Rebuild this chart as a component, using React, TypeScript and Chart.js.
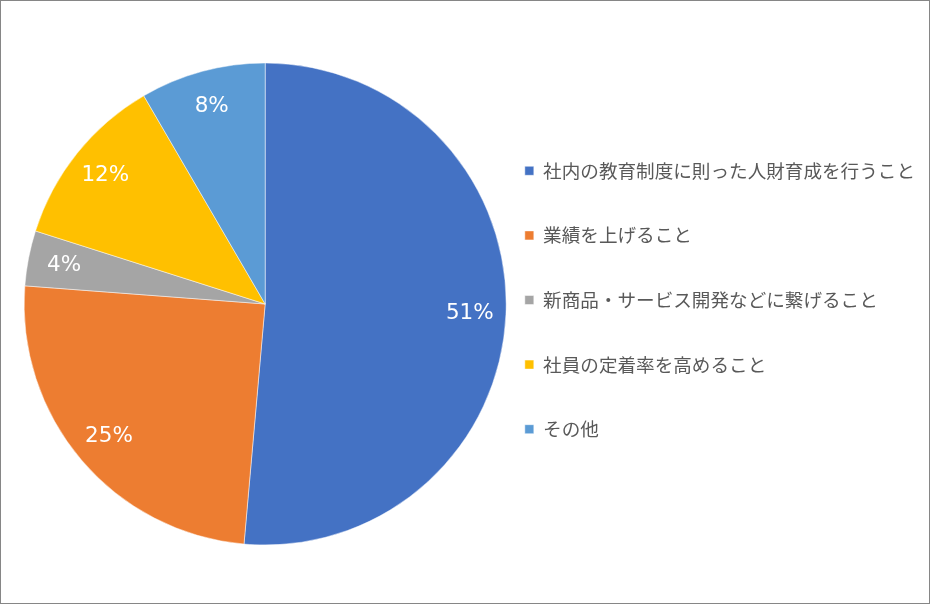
import { useEffect, useRef } from "react";
import { Chart, registerables } from "chart.js";
import type { ChartConfiguration, Plugin } from "chart.js";

Chart.register(...registerables);

// ====== data (percent) ======
const LABELS = [
  "社内の教育制度に則った人財育成を行うこと",
  "業績を上げること",
  "新商品・サービス開発などに繋げること",
  "社員の定着率を高めること",
  "その他",
];
const VALUES = [51.4, 24.8, 3.7, 11.7, 8.4];
const COLORS = ["#4472C4", "#ED7D31", "#A5A5A5", "#FFC000", "#5B9BD5"];

// percent labels inside slices (near outer edge)
const pctLabels: Plugin<"pie"> = {
  id: "pctLabels",
  afterDatasetsDraw(chart) {
    const { ctx } = chart;
    const meta = chart.getDatasetMeta(0);
    const total = VALUES.reduce((a, b) => a + b, 0);
    ctx.save();
    ctx.fillStyle = "#ffffff";
    ctx.font = "21.5px 'DejaVu Sans', Verdana, sans-serif";
    ctx.textAlign = "center";
    ctx.textBaseline = "middle";
    meta.data.forEach((arc: any, i) => {
      const { x, y, startAngle, endAngle, outerRadius } = arc.getProps(
        ["x", "y", "startAngle", "endAngle", "outerRadius"],
        true
      );
      const mid = (startAngle + endAngle) / 2;
      const r = outerRadius * 0.85;
      const pct = Math.round((VALUES[i] / total) * 100);
      ctx.fillText(`${pct}%`, x + Math.cos(mid) * r, y + Math.sin(mid) * r);
    });
    ctx.restore();
  },
};

// nudge the legend a bit higher than the pie centre
const legendNudge: Plugin<"pie"> = {
  id: "legendNudge",
  afterLayout(chart) {
    const lg: any = chart.legend;
    if (!lg) return;
    lg.top -= 4;
    lg.bottom -= 4;
  },
};

export default function App() {
  const canvasRef = useRef<HTMLCanvasElement | null>(null);

  useEffect(() => {
    document.body.style.margin = "0";
    const ctx = canvasRef.current!.getContext("2d")!;

    const config: ChartConfiguration<"pie", number[], string> = {
      type: "pie",
      data: {
        labels: LABELS,
        datasets: [
          {
            data: VALUES,
            backgroundColor: COLORS,
            borderColor: "rgba(255,255,255,0.6)",
            borderWidth: 0.8,
          },
        ],
      },
      options: {
        responsive: true,
        maintainAspectRatio: false,
        animation: false,
        radius: 241,
        layout: { padding: { top: 4, right: 4, bottom: 0, left: 50.5 } },
        plugins: {
          tooltip: { enabled: false },
          legend: {
            position: "right",
            align: "center",
            maxWidth: 480,
            labels: {
              boxWidth: 9,
              boxHeight: 9,
              padding: 46,
              color: "#595959",
              font: { size: 18.6, family: "'Noto Sans CJK JP', sans-serif" },
            },
          },
        },
      },
      plugins: [pctLabels, legendNudge],
    };

    const chart = new Chart(ctx, config);
    return () => chart.destroy();
  }, []);

  return (
    <div
      style={{
        width: 930,
        height: 604,
        boxSizing: "border-box",
        border: "1px solid #868686",
        background: "#fff",
        position: "relative",
      }}
    >
      <canvas ref={canvasRef} />
    </div>
  );
}
